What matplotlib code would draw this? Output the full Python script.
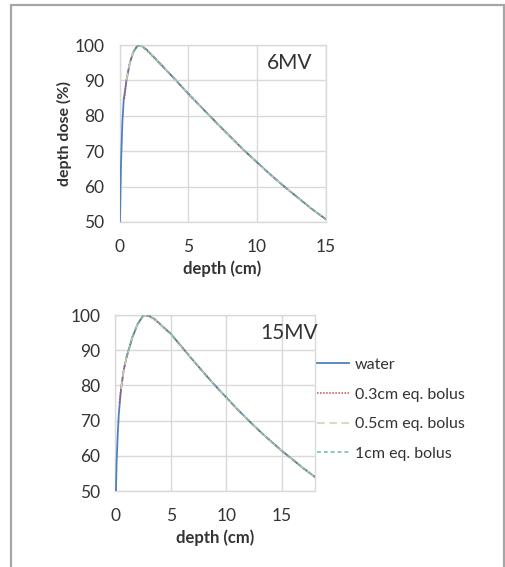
import matplotlib
matplotlib.use("Agg")
import matplotlib.pyplot as plt
from matplotlib.patches import Rectangle

# ---------------- data ----------------
# 6MV
d6_water = [0, 0.1, 0.2, 0.3, 0.5, 0.75, 1.0, 1.25, 1.5, 2, 3, 4, 5, 6, 7, 8, 9, 10, 11, 12, 13, 14, 15]
v6_water = [46, 66, 78, 84.5, 90, 95, 98, 99.5, 100, 98.6, 94.6, 90.4, 86.3, 82.2, 78.3, 74.3, 70.5, 66.9, 63.3, 60.0, 56.8, 53.7, 50.8]
d6_b03 = [0.35, 0.5, 0.75, 1.0, 1.25, 1.5, 2, 3, 4, 5, 6, 7, 8, 9, 10, 11, 12, 13, 14, 15]
v6_b03 = [84.8, 90.2, 95.3, 98.2, 99.6, 100, 98.4, 94.4, 90.5, 86.1, 82.3, 78.1, 74.4, 70.4, 66.8, 63.4, 59.9, 56.9, 53.6, 50.9]
d6_b05 = [0.5, 0.75, 1.0, 1.25, 1.5, 2, 3, 4, 5, 6, 7, 8, 9, 10, 11, 12, 13, 14, 15]
v6_b05 = [90.0, 95.1, 98.1, 99.5, 100, 98.7, 94.7, 90.3, 86.4, 82.1, 78.4, 74.2, 70.6, 66.8, 63.2, 60.1, 56.7, 53.8, 50.7]
d6_b10 = [1.0, 1.25, 1.5, 2, 3, 4, 5, 6, 7, 8, 9, 10, 11, 12, 13, 14, 15]
v6_b10 = [98.0, 99.5, 100, 98.5, 94.5, 90.5, 86.2, 82.3, 78.2, 74.3, 70.5, 66.9, 63.3, 60.0, 56.8, 53.7, 50.8]

# 15MV
d15_water = [0, 0.1, 0.2, 0.3, 0.5, 0.75, 1.0, 1.5, 2.0, 2.5, 3.0, 3.5, 4, 5, 6, 7, 8, 9, 10, 11, 12, 13, 14, 15, 16, 17, 18]
v15_water = [45, 58, 66, 72, 79, 84.5, 88, 93.5, 97.5, 99.8, 99.8, 98.9, 97.5, 94.6, 90.8, 87.1, 83.4, 79.9, 76.5, 73.2, 70.0, 67.0, 64.1, 61.4, 58.8, 56.3, 53.9]
d15_b03 = [0.35, 0.5, 0.75, 1.0, 1.5, 2.0, 2.5, 3.0, 3.5, 4, 5, 6, 7, 8, 9, 10, 11, 12, 13, 14, 15, 16, 17, 18]
v15_b03 = [75, 79.2, 84.7, 88.2, 93.6, 97.4, 99.9, 99.7, 98.8, 97.4, 94.5, 90.9, 87.0, 83.5, 79.8, 76.6, 73.1, 70.1, 66.9, 64.2, 61.3, 58.9, 56.2, 54.0]
d15_b05 = [0.5, 0.75, 1.0, 1.5, 2.0, 2.5, 3.0, 3.5, 4, 5, 6, 7, 8, 9, 10, 11, 12, 13, 14, 15, 16, 17, 18]
v15_b05 = [79.0, 84.4, 88.1, 93.4, 97.6, 99.7, 99.9, 99.0, 97.6, 94.4, 90.7, 87.2, 83.3, 80.0, 76.4, 73.3, 69.9, 67.1, 64.0, 61.5, 58.7, 56.4, 53.8]
d15_b10 = [1.0, 1.5, 2.0, 2.5, 3.0, 3.5, 4, 5, 6, 7, 8, 9, 10, 11, 12, 13, 14, 15, 16, 17, 18]
v15_b10 = [88.0, 93.5, 97.5, 99.8, 99.8, 98.9, 97.5, 94.6, 90.8, 87.1, 83.4, 79.9, 76.5, 73.2, 70.0, 67.0, 64.1, 61.4, 58.8, 56.3, 53.9]

labels = ["water", "0.3cm eq. bolus", "0.5cm eq. bolus", "1cm eq. bolus"]
yticks = [50, 60, 70, 80, 90, 100]

# ---------------- style ----------------
plt.rcParams['font.family'] = ['Lato', 'DejaVu Sans']
W, H = 506, 567
fig = plt.figure(figsize=(W / 100, H / 100), dpi=100)

fig.patches.append(Rectangle((11 / W, -0.05), (504 - 11) / W, 1.05 - 5 / H,
                             transform=fig.transFigure, fill=False,
                             edgecolor='#A6A6A6', linewidth=1.6))

c_water = '#4F81BD'
c_b03 = '#C0504D'
c_b05 = '#D4CDA8'
c_b10 = '#6BB7AA'
grid_c = '#D9D9D9'
txt_c = '#333333'
TICK_FS = 12.5


def style_axes(ax, xt):
    ax.set_ylim(50, 100)
    ax.set_yticks(yticks)
    ax.set_xticks(xt)
    ax.grid(True, color=grid_c, linewidth=1.0)
    ax.set_axisbelow(True)
    for s in ax.spines.values():
        s.set_color(grid_c)
        s.set_linewidth(1.0)
    ax.tick_params(length=0, labelsize=TICK_FS, colors=txt_c, pad=11)
    ax.tick_params(axis='x', pad=12.5)


def draw(ax, dw, vw, d3, v3, d5, v5, d1, v1):
    ax.plot(dw, vw, color=c_water, lw=1.3, ls='-', label=labels[0], zorder=3)
    ax.plot(d3, v3, color=c_b03, lw=1.1, ls=(0, (1, 1)), label=labels[1], zorder=4)
    ax.plot(d5, v5, color=c_b05, lw=1.1, ls=(0, (5, 3)), label=labels[2], zorder=5)
    ax.plot(d1, v1, color=c_b10, lw=1.1, ls=(0, (2.5, 2)), label=labels[3], zorder=6)


# top: 6MV
ax1 = fig.add_axes([119.6 / W, 1 - 222 / H, (325.6 - 119.6) / W, (222 - 45) / H])
draw(ax1, d6_water, v6_water, d6_b03, v6_b03, d6_b05, v6_b05, d6_b10, v6_b10)
ax1.set_xlim(0, 15)
style_axes(ax1, [0, 5, 10, 15])
ax1.set_ylabel("depth dose (%)", fontsize=11.5, fontweight='bold', labelpad=2, color=txt_c)
ax1.set_xlabel("depth (cm)", fontsize=12, fontweight='bold', labelpad=4, color=txt_c)
ax1.text(0.827, 0.9, "6MV", transform=ax1.transAxes, fontsize=15, ha='center', va='center', color=txt_c)

# bottom: 15MV
ax2 = fig.add_axes([115.5 / W, 1 - 491 / H, (315.3 - 115.5) / W, (491 - 315) / H])
draw(ax2, d15_water, v15_water, d15_b03, v15_b03, d15_b05, v15_b05, d15_b10, v15_b10)
ax2.set_xlim(0, 18)
style_axes(ax2, [0, 5, 10, 15])
ax2.set_xlabel("depth (cm)", fontsize=12, fontweight='bold', labelpad=4, color=txt_c)
ax2.text(0.868, 0.9, "15MV", transform=ax2.transAxes, fontsize=15, ha='center', va='center', color=txt_c)

leg = ax2.legend(loc='upper left', bbox_to_anchor=(1.01, 0.757), frameon=False,
                 fontsize=11.5, handlelength=2.0, handletextpad=0.35,
                 labelspacing=0.97, borderaxespad=0, borderpad=0)
for t in leg.get_texts():
    t.set_color(txt_c)

fig.savefig("out.png", dpi=100)
